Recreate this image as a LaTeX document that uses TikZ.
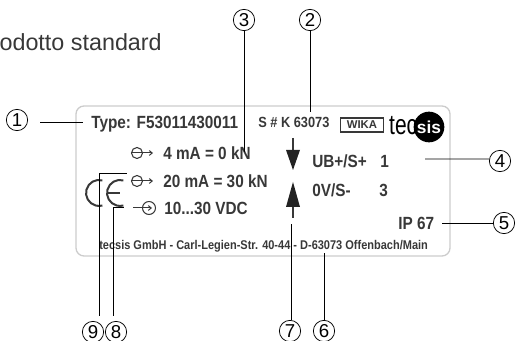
\documentclass[tikz,border=0pt]{standalone}
\usepackage{fontspec}
\setmainfont{Liberation Sans}
\usetikzlibrary{arrows.meta, calc, positioning}
\definecolor{inkgray}{gray}{0.22}
\tikzset{
	callout/.style={circle, draw=black, line width=0.55pt, inner sep=0pt, minimum size=16pt, font=\fontsize{14}{14}\selectfont},
	leader/.style={draw=black, line width=0.7pt},
	plate/.style={anchor=west, inner sep=0pt, text=inkgray, yscale=1.15, font=\fontsize{11.5}{13}\bfseries\selectfont},
	smallplate/.style={plate, font=\fontsize{9.6}{11}\bfseries\selectfont},
	footplate/.style={plate, font=\fontsize{8.25}{10}\bfseries\selectfont},
	pin/.style={draw=inkgray, line width=0.8pt},
	cemark/.style={draw=inkgray, line width=1.5pt},
	signal/.style={draw=inkgray, line width=0.75pt, -{Straight Barb[length=2.2pt,width=3.6pt]}}
}
\begin{document}
\begin{tikzpicture}[x=0.75pt, y=-0.75pt]
	\useasboundingbox (0,0) rectangle (515,341);
	% Schild
	\draw[rounded corners=6pt, draw=gray!40, line width=1pt] (76,106) rectangle (450,256);
	\node[anchor=east, inner sep=0pt, text=inkgray, font=\fontsize{17.5}{19}\selectfont] (title) at (162,42) {odotto standard};
	% Texte auf dem Schild
	\node[plate] (type) at (91,124) {Type: F53011430011};
	\node[smallplate] (serial) at (258,122) {S \# K 63073};
	\node[plate] (m4) at (163,153) {4 mA = 0 kN};
	\node[plate] (m20) at (163,181) {20 mA = 30 kN};
	\node[plate] (supply) at (164,208) {10...30 VDC};
	\node[plate] (ub) at (312,161) {UB+/S+};
	\node[plate] (ubpin) at (380,161) {1};
	\node[plate] (ov) at (312,190) {0V/S-};
	\node[plate] (ovpin) at (379,190) {3};
	\node[plate] (ip) at (398,223) {IP 67};
	\node[footplate] (address) at (99,246) {tecsis GmbH - Carl-Legien-Str. 40-44 - D-63073 Offenbach/Main};
	% Logos
	\node[draw=inkgray, line width=0.8pt, inner xsep=1.5pt, inner ysep=1pt, text=inkgray, font=\fontsize{8.5}{9}\bfseries\selectfont, minimum width=32pt, minimum height=10.5pt] (wika) at (362,125) {WIKA};
	\node[anchor=west, inner sep=0pt, text=black, xscale=0.75, font=\fontsize{21}{22}\selectfont] (tec) at (389,126) {tec};
	\node[circle, fill=black, inner sep=0pt, minimum size=23pt, text=white, font=\fontsize{13}{14}\bfseries\selectfont] (sis) at (429,127) {sis};
	% CE
	\draw[cemark] (102.4,180.4) arc[start angle=285, end angle=75, radius=13];
	\draw[cemark] (123.4,180.4) arc[start angle=285, end angle=75, radius=13];
	\draw[cemark] (108,193) -- (120,193);
	% Symbole
	\foreach \y in {153,181}{
		\draw[draw=inkgray, line width=0.8pt] (137,\y) circle[radius=5.5];
		\draw[signal] (132,\y) -- (153,\y);
	}
	\draw[draw=inkgray, line width=0.8pt] (149,208) circle[radius=6.5];
	\draw[signal] (133,208) -- (152,208);
	% Pfeile
	\draw[pin] (293,138) -- (293,152);
	\fill[inkgray!60!black] (286,150) -- (300,150) -- (293,170) -- cycle;
	\draw[pin] (293,205) -- (293,218);
	\fill[inkgray!60!black] (286,207) -- (300,207) -- (293,182) -- cycle;
	% Nummern
	\node[callout] (c1) at (17,120) {1};
	\node[callout] (c2) at (310,20) {2};
	\node[callout] (c3) at (244,20) {3};
	\node[callout] (c4) at (500,161) {4};
	\node[callout] (c5) at (504,223) {5};
	\node[callout] (c6) at (324,331) {6};
	\node[callout] (c7) at (290,331) {7};
	\node[callout] (c8) at (116,332) {8};
	\node[callout] (c9) at (93,332) {9};
	% Bezugslinien
	\coordinate (e1) at (83,122);
	\coordinate (s1) at (40,122);
	\coordinate (e2) at (310,112);
	\coordinate (e3) at (244,152);
	\coordinate (e4) at (425,159);
	\coordinate (e5) at (442,223);
	\coordinate (e6) at (324,253);
	\coordinate (e7) at (291,224);
	\coordinate (e8) at (124,207);
	\coordinate (e9) at (127,173);
	\draw[leader] (s1) -- (e1);
	\draw[leader] (c2) -- (e2);
	\draw[leader] (c3) -- (e3);
	\draw[leader] (c4) -- (c4.west |- e4) -- (e4);
	\draw[leader] (c5) -- (e5);
	\draw[leader] (c6) -- (e6);
	\draw[leader] (c7.north -| e7) -- (e7);
	\draw[leader] (113,316) -- (113,207) -- (e8);
	\draw[leader] (99,316) -- (99,173) -- (e9);
\end{tikzpicture}
\end{document}
